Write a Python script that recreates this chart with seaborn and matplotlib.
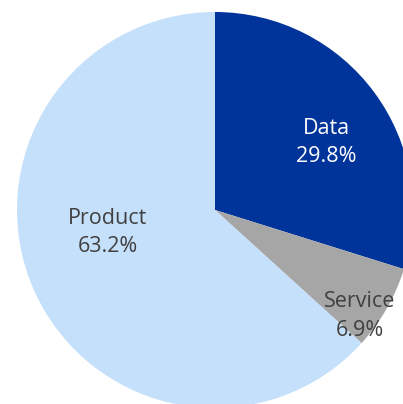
import matplotlib
matplotlib.use("Agg")
import matplotlib.pyplot as plt
import seaborn as sns
import numpy as np

# --- data ---
categories = ["Data", "Service", "Product"]
shares = [29.8, 6.9, 63.2]
colors = ["#00349A", "#A6A6A6", "#C5E0FB"]
text_colors = ["white", "#404040", "#404040"]
# label placement (angle in degrees, distance as fraction of radius)
label_pos = [(31.3, 0.66), (-36.2, 0.907), (192.0, 0.553)]

sns.set_theme(style="white")
plt.rcParams['font.family'] = ['Open Sans', 'DejaVu Sans']

W, H = 403, 404
cx, cy, r = 215, 210, 198
fig = plt.figure(figsize=(W / 100, H / 100), dpi=100)
ax = fig.add_axes([0, 0, 1, 1])

wedges, _ = ax.pie(shares, colors=colors, startangle=90, counterclock=False,
                   radius=1, wedgeprops=dict(linewidth=0))

for name, val, tc, (ang, d) in zip(categories, shares, text_colors, label_pos):
    a = np.deg2rad(ang)
    ax.text(d * np.cos(a), d * np.sin(a), f"{name}\n{val:.1f}%", ha="center", va="center",
            fontsize=15.5, color=tc, linespacing=1.45)

ax.set_xlim(-cx / r, (W - cx) / r)
ax.set_ylim(-(H - cy) / r, cy / r)
ax.set_aspect("auto")
ax.axis("off")

fig.savefig("out.png", dpi=100)
